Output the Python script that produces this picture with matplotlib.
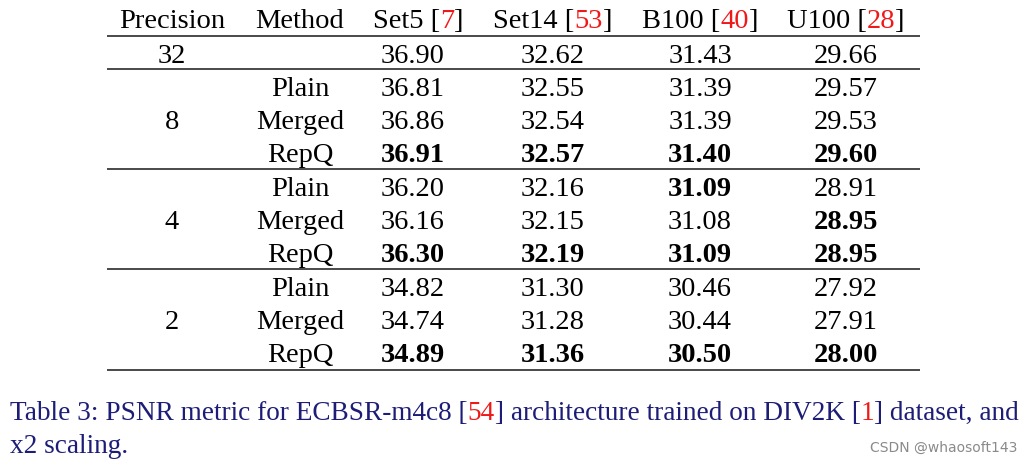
import numpy as np
import matplotlib
matplotlib.use('Agg')
import matplotlib.pyplot as plt

# table content
datasets = ['Set5', 'Set14', 'B100', 'U100']
refs = ['7', '53', '40', '28']
methods = ['Plain', 'Merged', 'RepQ']
fp32 = [36.90, 32.62, 31.43, 29.66]
bits = ['8', '4', '2']
psnr_8 = [[36.81, 32.55, 31.39, 29.57],
          [36.86, 32.54, 31.39, 29.53],
          [36.91, 32.57, 31.40, 29.60]]
psnr_4 = [[36.20, 32.16, 31.09, 28.91],
          [36.16, 32.15, 31.08, 28.95],
          [36.30, 32.19, 31.09, 28.95]]
psnr_2 = [[34.82, 31.30, 30.46, 27.92],
          [34.74, 31.28, 30.44, 27.91],
          [34.89, 31.36, 30.50, 28.00]]
caption_parts = [('Table 3: PSNR metric for ECBSR-m4c8 [', 'navy'), ('54', 'red'),
                 ('] architecture trained on DIV2K [', 'navy'), ('1', 'red'),
                 ('] dataset, and', 'navy')]
caption_line2 = 'x2 scaling.'

FONT = 'Liberation Serif'
FS = 20.5
NAVY = '#1d1d78'
RED = '#f01818'

fig = plt.figure(figsize=(10.3, 4.65), dpi=100)
ax = fig.add_axes([0, 0, 1, 1])
ax.set_xlim(0, 1030)
ax.set_ylim(465, 0)
ax.axis('off')
renderer = fig.canvas.get_renderer()


def rich_text(x, y, parts, ha='center', size=FS, **kw):
    # draw several coloured pieces one after another on the same baseline
    items = []
    for s, c in parts:
        t = ax.text(0, y, s, color=c, ha='left', va='baseline',
                    family=FONT, fontsize=size, **kw)
        items.append((t, t.get_window_extent(renderer).width))
    total = sum(w for _, w in items)
    cur = x - total / 2 if ha == 'center' else x
    for t, w in items:
        t.set_x(cur)
        cur += w
    return total


col_x = [172, 300, 418, 553, 700, 846]
num_x = [172, 300, 413, 553, 700, 846]
off = 11  # baseline offset below row centre

# header
for x, s in zip(col_x[:2], ['Precision', 'Method']):
    ax.text(x, 17 + off, s, ha='center', va='baseline', family=FONT, fontsize=FS)
for x, d, r in zip(col_x[2:], datasets, refs):
    rich_text(x, 17 + off, [(d + ' [', 'black'), (r, RED), (']', 'black')])

# rules
for y in [36, 69, 169, 269, 370]:
    ax.plot([107, 920], [y, y], color='#3a3a3a', lw=1.3, solid_capstyle='butt')

# fp32 row
ax.text(num_x[0], 52 + off, '32', ha='center', va='baseline', family=FONT, fontsize=FS)
for x, v in zip(num_x[2:], fp32):
    ax.text(x, 52 + off, f'{v:.2f}', ha='center', va='baseline', family=FONT, fontsize=FS)

# quantised groups
group_top = [85, 185, 285]
for b, top, vals in zip(bits, group_top, [psnr_8, psnr_4, psnr_2]):
    vals = np.array(vals)
    best = vals.max(axis=0)
    ax.text(num_x[0], top + 33 + off, b, ha='center', va='baseline', family=FONT, fontsize=FS)
    for i, m in enumerate(methods):
        y = top + 33 * i + off
        ax.text(num_x[1], y, m, ha='center', va='baseline', family=FONT, fontsize=FS)
        for j, x in enumerate(num_x[2:]):
            w = 'bold' if np.isclose(vals[i, j], best[j]) else 'normal'
            ax.text(x, y, f'{vals[i, j]:.2f}', ha='center', va='baseline',
                    family=FONT, fontsize=FS, fontweight=w)

# caption
cap = [(s, RED if c == 'red' else NAVY) for s, c in caption_parts]
rich_text(10, 420, cap, ha='left', size=19.6)
ax.text(10, 453, caption_line2, ha='left', va='baseline', family=FONT,
        fontsize=19.6, color=NAVY)

# watermark
ax.text(1017, 452, 'CSDN @whaosoft143', ha='right', va='baseline',
        family='DejaVu Sans', fontsize=10, color='#8a8a8a')

fig.savefig('out.png', dpi=100)
